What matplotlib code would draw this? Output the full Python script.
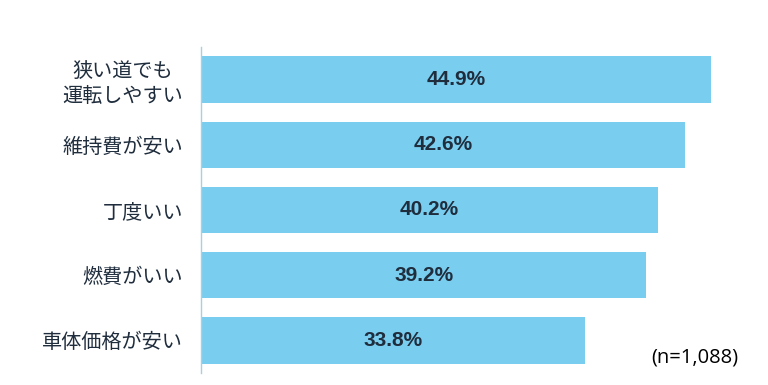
import matplotlib
matplotlib.use('Agg')
import matplotlib.pyplot as plt

# データ
categories = ['狭い道でも\n運転しやすい', '維持費が安い', '丁度いい', '燃費がいい', '車体価格が安い']
values = [44.9, 42.6, 40.2, 39.2, 33.8]
note = '(n=1,088)'

bar_color = '#79CDEF'
text_color = '#1F2D3D'

fig = plt.figure(figsize=(7.68, 3.85), dpi=100)
ax = fig.add_axes([201/768, 12/385, 568/768, 326/385])

y = range(len(categories))
ax.barh(y, values, height=0.71, color=bar_color)

for i, v in enumerate(values):
    ax.text(v / 2, i, f'{v:.1f}%', ha='center', va='center',
            fontsize=15, fontweight='bold', color=text_color,
            family='Liberation Sans')

ax.set_xlim(0, 50)
ax.set_ylim(len(categories) - 0.5, -0.5)
ax.set_yticks(list(y))
ax.set_yticklabels(categories, fontsize=14.5, color=text_color,
                   family=['Noto Sans CJK JP', 'DejaVu Sans'],
                   multialignment='center', linespacing=1.25)
ax.tick_params(axis='y', length=0, pad=13)
ax.set_xticks([])

for s in ['top', 'right', 'bottom']:
    ax.spines[s].set_visible(False)
ax.spines['left'].set_color('#A9CFE0')
ax.spines['left'].set_linewidth(1.0)

fig.text(738/768, 1 - 358/385, note, ha='right', va='center',
         fontsize=14.5, color='#000000', family='Open Sans')

fig.savefig('out.png', dpi=100)
